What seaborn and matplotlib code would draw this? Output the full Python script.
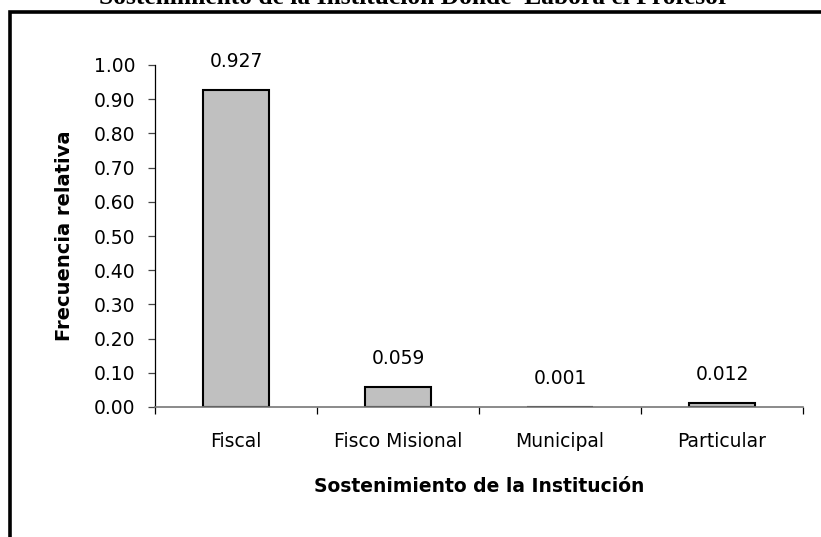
import matplotlib
matplotlib.use("Agg")
import matplotlib.pyplot as plt
from matplotlib.patches import Rectangle
import seaborn as sns
import pandas as pd

categorias = ["Fiscal", "Fisco Misional", "Municipal", "Particular"]
frecuencias = [0.927, 0.059, 0.001, 0.012]
etiquetas = ["0.927", "0.059", "0.001", "0.012"]
ticks_y = [0.0, 0.1, 0.2, 0.3, 0.4, 0.5, 0.6, 0.7, 0.8, 0.9, 1.0]

sns.set_theme(style="white")
plt.rcParams["font.family"] = ["DejaVu Sans"]
plt.rcParams["text.color"] = "black"
plt.rcParams["axes.labelcolor"] = "black"
plt.rcParams["xtick.color"] = "black"
plt.rcParams["ytick.color"] = "black"

df = pd.DataFrame({"cat": categorias, "frec": frecuencias})

fig = plt.figure(figsize=(8.21, 5.37), dpi=100)
fig.patch.set_facecolor("white")
ax = fig.add_axes([155 / 821, 1 - 407 / 537, 648 / 821, 342 / 537])

sns.barplot(data=df, x="cat", y="frec", ax=ax, color="#C0C0C0",
            width=0.41, edgecolor="black", linewidth=1.5, saturation=1)

ax.set_xlim(-0.5, 3.5)
ax.set_ylim(0, 1.0)
ax.set_yticks(ticks_y)
ax.set_yticklabels([f"{t:.2f}" for t in ticks_y], fontsize=13.5)
ax.set_xticks([-0.5, 0.5, 1.5, 2.5, 3.5], minor=False)
ax.set_xticklabels([])
ax.set_xticks(range(4), minor=True)
ax.set_xticklabels(categorias, minor=True, fontsize=13.5)
ax.tick_params(axis="x", which="minor", length=0, pad=18)
ax.tick_params(axis="x", which="major", length=5, width=0.9, color="black",
               direction="out", bottom=True)
ax.tick_params(axis="y", length=5, width=0.9, color="#444444",
               direction="out", left=True, pad=9)

for s in ["top", "right"]:
    ax.spines[s].set_visible(False)
ax.spines["left"].set_color("black")
ax.spines["left"].set_linewidth(0.9)
ax.spines["bottom"].set_color("#777777")
ax.spines["bottom"].set_linewidth(1.2)

ax.set_xlabel("Sostenimiento de la Institución", fontsize=13.5,
              fontweight="bold", labelpad=19)
ax.set_ylabel("Frecuencia relativa", fontsize=14, fontweight="bold",
              labelpad=14)

for i, (v, t) in enumerate(zip(frecuencias, etiquetas)):
    ax.annotate(t, (i, v), xytext=(0, 16.5), textcoords="offset points",
                ha="center", va="baseline", fontsize=13.5)

# outer frame of the chart area
fig.patches.append(Rectangle((10 / 821, -0.1), 1.2, 1 - 12 / 537 + 0.1,
                             transform=fig.transFigure, fill=False,
                             edgecolor="black", linewidth=2.6,
                             clip_on=False))

fig.text(414 / 821, 1 - 4 / 537,
         "Sostenimiento de la Institución Donde  Labora el Profesor",
         ha="center", va="baseline", fontsize=18.4, fontweight="bold",
         family=["Liberation Serif", "DejaVu Serif"])

fig.savefig("out.png", dpi=100)
